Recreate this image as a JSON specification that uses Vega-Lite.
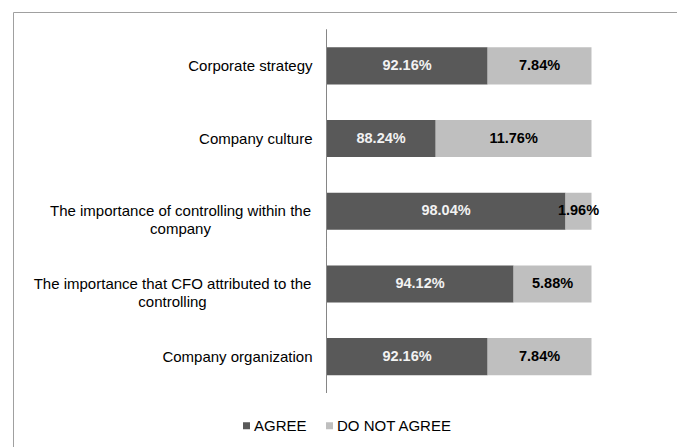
{
  "$schema": "https://vega.github.io/schema/vega-lite/v6.json",
  "width": 664,
  "height": 445,
  "autosize": "none",
  "padding": {"left": 13, "top": 12, "right": 0, "bottom": 0},
  "background": "white",
  "config": {
    "view": {"stroke": "#a0a0a0", "strokeWidth": 1},
    "font": "Liberation Sans"
  },
  "data": {
    "values": [
      {"category": "Corporate strategy", "response": "AGREE", "order": 1, "value": 0.9216},
      {"category": "Corporate strategy", "response": "DO NOT AGREE", "order": 2, "value": 0.0784},
      {"category": "Company culture", "response": "AGREE", "order": 1, "value": 0.8824},
      {"category": "Company culture", "response": "DO NOT AGREE", "order": 2, "value": 0.1176},
      {"category": "The importance of controlling within the company", "response": "AGREE", "order": 1, "value": 0.9804},
      {"category": "The importance of controlling within the company", "response": "DO NOT AGREE", "order": 2, "value": 0.0196},
      {"category": "The importance that CFO attributed to the controlling", "response": "AGREE", "order": 1, "value": 0.9412},
      {"category": "The importance that CFO attributed to the controlling", "response": "DO NOT AGREE", "order": 2, "value": 0.0588},
      {"category": "Company organization", "response": "AGREE", "order": 1, "value": 0.9216},
      {"category": "Company organization", "response": "DO NOT AGREE", "order": 2, "value": 0.0784}
    ]
  },
  "transform": [
    {"stack": "value", "groupby": ["category"], "sort": [{"field": "order", "order": "ascending"}], "as": ["x0", "x1"]},
    {"calculate": "(max(datum.x0, 0.8) + datum.x1) / 2", "as": "xmid"}
  ],
  "resolve": {"axis": {"y": "independent"}},
  "layer": [
    {
      "mark": {"type": "bar"},
      "encoding": {
        "y": {
          "field": "category",
          "type": "nominal",
          "sort": null,
          "scale": {"paddingInner": 0.49, "paddingOuter": 0.8055, "align": 0.3015},
          "axis": {
            "title": null,
            "orient": "left",
            "offset": -313,
            "domain": false,
            "ticks": false,
            "tickSize": 0,
            "grid": false,
            "labelPadding": 14,
            "labelFontSize": 15,
            "labelColor": "#000000",
            "labelFont": "Liberation Sans",
            "labelLimit": 400,
            "labelExpr": "length(datum.label) > 40 ? '' : datum.label"
          }
        },
        "x": {"field": "x0", "type": "quantitative", "scale": {"domain": [0.8, 1.0], "range": [313.5, 578.5], "clamp": true, "nice": false, "zero": false}, "axis": null},
        "x2": {"field": "x1"},
        "color": {
          "field": "response",
          "type": "nominal",
          "scale": {"domain": ["AGREE", "DO NOT AGREE"], "range": ["#595959", "#bfbfbf"]},
          "legend": {
            "orient": "none",
            "legendX": 226,
            "legendY": 406,
            "direction": "horizontal",
            "title": null,
            "symbolType": "square",
            "symbolSize": 49,
            "symbolStrokeWidth": 0,
            "labelFontSize": 15,
            "labelFont": "Liberation Sans",
            "labelColor": "#000000",
            "labelOffset": 0,
            "columnPadding": 15
          }
        }
      }
    },
    {
      "transform": [{"filter": "datum.response == 'AGREE'"}],
      "mark": {"type": "bar", "height": {"band": 1.9608}, "fill": "#868686", "stroke": "#868686", "strokeWidth": 1},
      "encoding": {
        "y": {"field": "category", "type": "nominal", "sort": null, "axis": null},
        "x": {"datum": 0.8, "type": "quantitative"},
        "x2": {"datum": 0.8}
      }
    },
    {
      "mark": {"type": "text", "fontSize": 14.5, "fontWeight": "bold", "font": "Liberation Sans", "align": "center", "baseline": "middle"},
      "encoding": {
        "y": {
          "field": "category",
          "type": "nominal",
          "sort": null,
          "axis": {
            "title": null,
            "orient": "left",
            "offset": -313,
            "domain": false,
            "ticks": false,
            "tickSize": 0,
            "grid": false,
            "labelAlign": "center",
            "labelPadding": {"condition": {"test": "datum.label == 'The importance that CFO attributed to the controlling'", "value": 154}, "value": 146},
            "labelFontSize": 15,
            "labelColor": "#000000",
            "labelFont": "Liberation Sans",
            "labelLimit": 400,
            "labelLineHeight": 18,
            "labelExpr": "datum.label == 'The importance of controlling within the company' ? ['The importance of controlling within the', 'company'] : datum.label == 'The importance that CFO attributed to the controlling' ? ['The importance that CFO attributed to the', 'controlling'] : ''"
          }
        },
        "x": {"field": "xmid", "type": "quantitative"},
        "text": {"field": "value", "type": "quantitative", "format": ".2%"},
        "color": {"condition": {"test": "datum.response == 'AGREE'", "value": "#f2f2f2"}, "value": "#000000"}
      }
    }
  ]
}
